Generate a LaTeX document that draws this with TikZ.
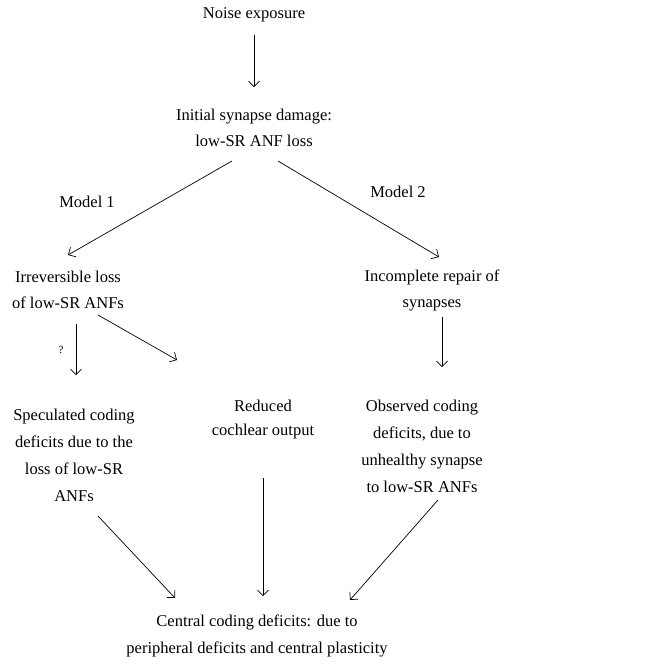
\documentclass[tikz,border=0pt]{standalone}
\usepackage{fontspec}
\setmainfont{Liberation Serif}
\usetikzlibrary{arrows.meta}
\begin{document}
\begin{tikzpicture}[x=1pt,y=-1pt,
  txt/.style={align=center,inner sep=0pt,font=\fontsize{16.5}{26}\selectfont},
  arr/.style={-{Straight Barb[length=5.5pt,width=11pt]},line width=0.7pt}]
\useasboundingbox (0,0) rectangle (655,667);
\node[txt] (noise) at (254,15) {Noise exposure};
\node[txt] (init) at (254,128) {Initial synapse damage:\\low-SR ANF loss};
\node[txt] (m1) at (87,202) {Model 1};
\node[txt] (m2) at (398,192) {Model 2};
\node[txt] (irr) at (68,290) {Irreversible loss\\of low-SR ANFs};
\node[txt] (inc) at (432,290) {Incomplete repair of\\synapses};
\node[txt,font=\fontsize{11}{13}\selectfont] (q) at (61,350) {?};
\node[txt,font=\fontsize{16.5}{27}\selectfont] (spec) at (74,455) {Speculated coding\\deficits due to the\\loss of low-SR\\ANFs};
\node[txt,font=\fontsize{16.5}{24}\selectfont] (red) at (263,420) {Reduced\\cochlear output};
\node[txt,font=\fontsize{16.5}{27}\selectfont] (obs) at (422,446) {Observed coding\\deficits, due to\\unhealthy synapse\\to low-SR ANFs};
\node[txt,font=\fontsize{16.5}{27}\selectfont] (cen) at (257,636) {Central coding deficits: due to\\peripheral deficits and central plasticity};
\draw[arr] ([shift={(0,20)}]noise.center) -- ([shift={(0,-41)}]init.center);
\draw[arr] ([shift={(-22,33)}]init.center) -- ([shift={(0,-35)}]irr.center);
\draw[arr] ([shift={(24,33)}]init.center) -- ([shift={(7,-33)}]inc.center);
\draw[arr] ([shift={(8,34)}]irr.center) -- ([shift={(2,-80)}]spec.center);
\draw[arr] ([shift={(30,25)}]irr.center) -- ([shift={(-86,-60)}]red.center);
\draw[arr] ([shift={(10,27)}]inc.center) -- ([shift={(20,-79)}]obs.center);
\draw[arr] ([shift={(24,61)}]spec.center) -- ([shift={(-82,-38)}]cen.center);
\draw[arr] ([shift={(0,58)}]red.center) -- ([shift={(6,-40)}]cen.center);
\draw[arr] ([shift={(16,54)}]obs.center) -- ([shift={(93,-36)}]cen.center);
\end{tikzpicture}
\end{document}
